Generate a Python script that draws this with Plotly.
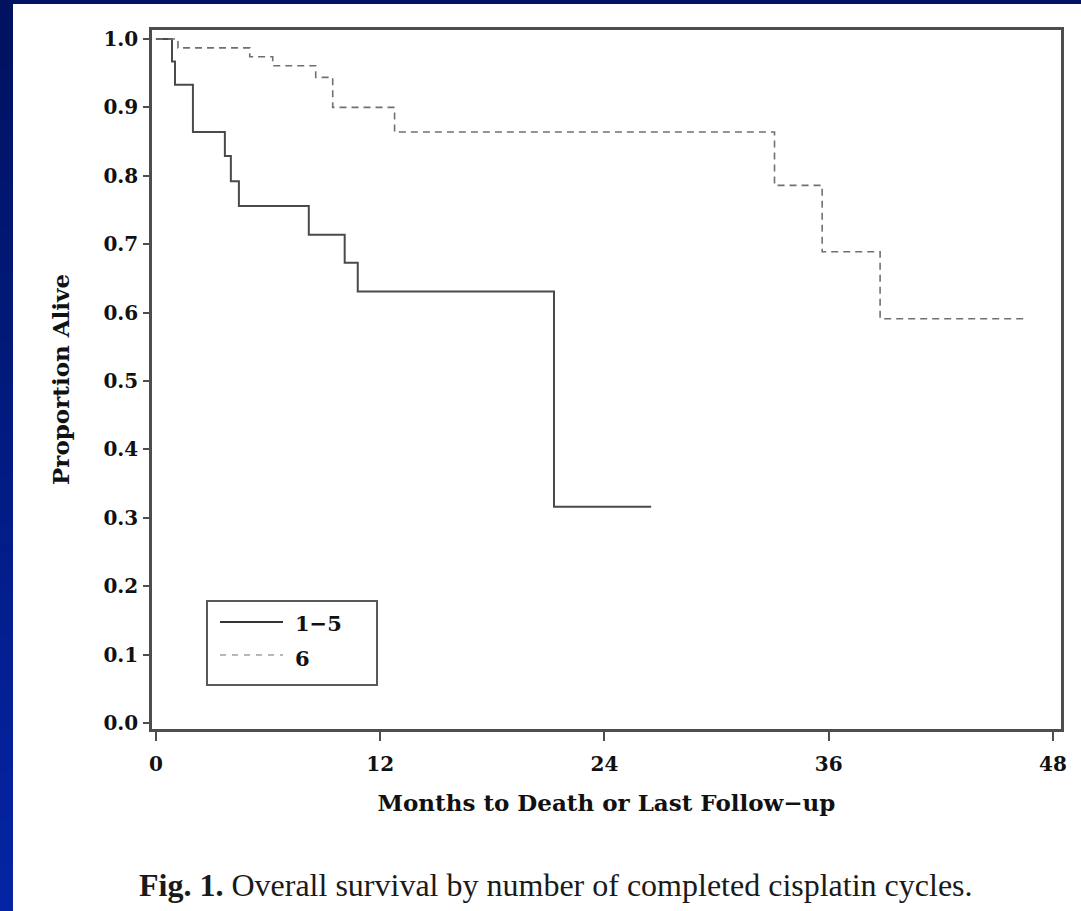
import plotly.graph_objects as go

# Kaplan-Meier step data: months and proportion alive, by completed cisplatin cycles
months_1_5 = [0, 0.86, 1.02, 1.98, 3.69, 4.01, 4.44, 8.18, 10.1, 10.8, 21.3, 26.5]
alive_1_5 = [1.0, 0.967, 0.933, 0.864, 0.829, 0.792, 0.756, 0.714, 0.673, 0.631, 0.316, 0.316]

months_6 = [0, 1.18, 5.02, 6.25, 8.55, 9.46, 12.77, 33.1, 35.65, 38.75, 46.6]
alive_6 = [1.0, 0.987, 0.974, 0.961, 0.944, 0.90, 0.864, 0.786, 0.689, 0.591, 0.591]

group_labels = ["1\u22125", "6"]
x_ticks = [0, 12, 24, 36, 48]
y_ticks = [0.0, 0.1, 0.2, 0.3, 0.4, 0.5, 0.6, 0.7, 0.8, 0.9, 1.0]

W, H = 1081, 911
ML, MR, MT, MB = 152, 20, 30, 182
PW, PH = W - ML - MR, H - MT - MB


def px_x(p):
    return (p - ML) / PW


def px_y(p):
    return (H - MB - p) / PH


AXIS = "#4d4d4d"
SOLID = "#4a4a4a"
DASHED = "#707070"
SERIF = "DejaVu Serif"
TICKFONT = dict(family=SERIF, size=20, color="#111111", weight="bold")
LABELFONT = dict(family=SERIF, size=23, color="#111111", weight="bold")

fig = go.Figure()
fig.add_trace(go.Scatter(x=months_1_5, y=alive_1_5, mode="lines", line_shape="hv",
                         line=dict(color=SOLID, width=2), name=group_labels[0],
                         showlegend=False))
fig.add_trace(go.Scatter(x=months_6, y=alive_6, mode="lines", line_shape="hv",
                         line=dict(color=DASHED, width=1.6, dash="7px,5px"),
                         name=group_labels[1], showlegend=False))

shapes = []
# slide background: navy frame with a vertical gradient on the left strip
shapes.append(dict(type="rect", xref="paper", yref="paper", x0=-0.3, x1=1.2,
                   y0=-0.4, y1=1.2, fillcolor="#001466", line_width=0, layer="below"))
n_bands = 40
top_c, bot_c = (0, 18, 96), (4, 36, 164)
for i in range(n_bands):
    t = i / (n_bands - 1)
    c = tuple(round(top_c[k] + (bot_c[k] - top_c[k]) * t) for k in range(3))
    y_top = px_y(i * H / n_bands)
    y_bot = px_y((i + 1) * H / n_bands)
    shapes.append(dict(type="rect", xref="paper", yref="paper", x0=-0.3, x1=px_x(13),
                       y0=y_bot, y1=y_top + 0.002, fillcolor="rgb(%d,%d,%d)" % c,
                       line_width=0, layer="below"))
# white page
shapes.append(dict(type="rect", xref="paper", yref="paper", x0=px_x(13), x1=1.2,
                   y0=-0.4, y1=px_y(4), fillcolor="white", line_width=0, layer="below"))

# legend box with line samples
shapes.append(dict(type="rect", xref="paper", yref="paper", x0=px_x(207), x1=px_x(377),
                   y0=px_y(685), y1=px_y(601), line=dict(color="#5a5a5a", width=2),
                   fillcolor="rgba(0,0,0,0)"))
shapes.append(dict(type="line", xref="paper", yref="paper", x0=px_x(220), x1=px_x(283),
                   y0=px_y(622), y1=px_y(622), line=dict(color="#333333", width=2.2)))
shapes.append(dict(type="line", xref="paper", yref="paper", x0=px_x(220), x1=px_x(283),
                   y0=px_y(655), y1=px_y(655),
                   line=dict(color="#a0a0a0", width=1.4, dash="6px,6px")))

legend_font = dict(family=SERIF, size=21, color="#111111", weight="bold")
annotations = [
    dict(xref="paper", yref="paper", x=px_x(293), y=px_y(623), xanchor="left",
         yanchor="middle", text=group_labels[0], showarrow=False, font=legend_font),
    dict(xref="paper", yref="paper", x=px_x(293), y=px_y(658), xanchor="left",
         yanchor="middle", text=group_labels[1], showarrow=False, font=legend_font),
    dict(xref="paper", yref="paper", x=px_x(556), y=px_y(885), xanchor="center",
         yanchor="middle",
         text="<b>Fig. 1.</b> Overall survival by number of completed cisplatin cycles.",
         showarrow=False,
         font=dict(family="Liberation Serif", size=32, color="#1a1a1a")),
]

fig.update_layout(
    width=W, height=H,
    margin=dict(l=ML, r=MR, t=MT, b=MB, autoexpand=False),
    paper_bgcolor="#001466",
    plot_bgcolor="rgba(0,0,0,0)",
    shapes=shapes,
    annotations=annotations,
    showlegend=False,
)
fig.update_xaxes(
    range=[-0.21, 48.43], tickvals=x_ticks, ticktext=[str(v) for v in x_ticks],
    ticks="outside", ticklen=9, tickwidth=2, tickcolor=AXIS, ticklabelstandoff=6,
    showline=True, linecolor=AXIS, linewidth=2.5, mirror=True,
    showgrid=False, zeroline=False, tickfont=TICKFONT,
    title=dict(text="Months to Death or Last Follow\u2212up", standoff=21, font=LABELFONT),
)
fig.update_yaxes(
    range=[-0.0088, 1.0132], tickvals=y_ticks, ticktext=["%.1f" % v for v in y_ticks],
    ticks="outside", ticklen=6, tickwidth=2, tickcolor=AXIS, ticklabelstandoff=1,
    showline=True, linecolor=AXIS, linewidth=2.5, mirror=True,
    showgrid=False, zeroline=False, tickfont=TICKFONT,
    title=dict(text="Proportion Alive", standoff=28, font=LABELFONT),
)

fig.write_html("out.html")
